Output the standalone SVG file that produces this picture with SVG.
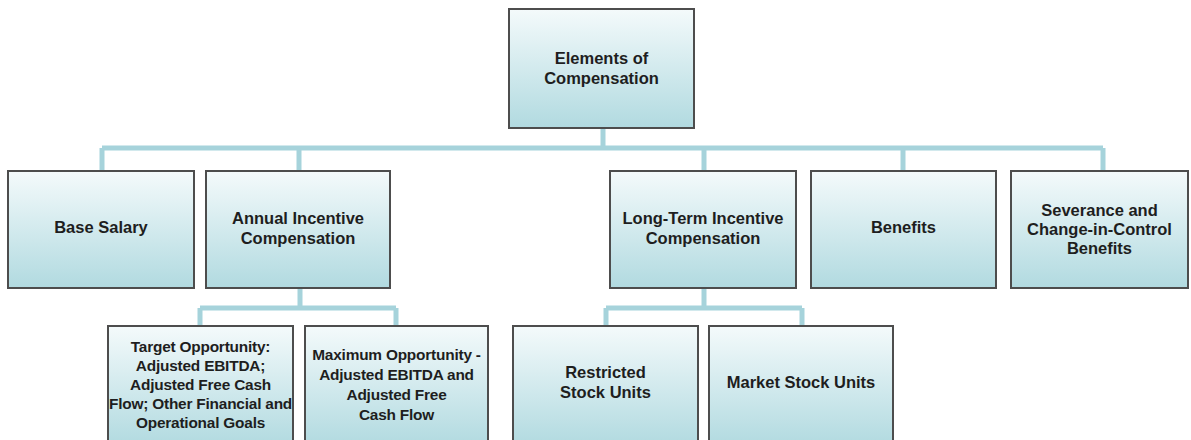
<svg xmlns="http://www.w3.org/2000/svg" width="1191" height="440" viewBox="0 0 1191 440">
<defs>
<linearGradient id="fill" x1="0" y1="0" x2="0" y2="1">
<stop offset="0" stop-color="#f4fafb"/>
<stop offset="1" stop-color="#b1dae0"/>
</linearGradient>
<linearGradient id="fillTall" gradientUnits="userSpaceOnUse" x1="0" y1="326" x2="0" y2="446">
<stop offset="0" stop-color="#f4fafb"/>
<stop offset="1" stop-color="#b1dae0"/>
</linearGradient>
<style>
.box{fill:url(#fill);stroke:#4d4d4d;stroke-width:2}
.tall{fill:url(#fillTall);stroke:#4d4d4d;stroke-width:2}
.t{font-family:"Liberation Sans",Arial,sans-serif;font-weight:bold;font-size:16.5px;fill:#1e1e1e;text-anchor:middle}
.s{font-size:15.4px;letter-spacing:-0.2px}
.c{fill:none;stroke:#a6d3db;stroke-width:5}
</style>
</defs>
<rect width="1191" height="440" fill="#ffffff"/>
<g id="connectors">
<path class="c" d="M603 128V148M102 148H1103M102 148V171M299 148V171M704 148V171M903 148V171M1103 148V171"/>
<path class="c" d="M300 288V308M200 308H396M200 308V326M396 308V326"/>
<path class="c" d="M704 288V308M606 308H802M606 308V326M802 308V326"/>
</g>
<g id="elements">
<rect class="box" x="509" y="9" width="185" height="119"/>
<text class="t" x="601.5" y="64">Elements of</text>
<text class="t" x="601.5" y="84">Compensation</text>
</g>
<g id="base-salary">
<rect class="box" x="8" y="171" width="186" height="117"/>
<text class="t" x="101" y="233">Base Salary</text>
</g>
<g id="annual">
<rect class="box" x="206" y="171" width="184" height="117"/>
<text class="t" x="298" y="224">Annual Incentive</text>
<text class="t" x="298" y="244">Compensation</text>
</g>
<g id="lti">
<rect class="box" x="610" y="171" width="186" height="117"/>
<text class="t" x="703" y="224">Long-Term Incentive</text>
<text class="t" x="703" y="244">Compensation</text>
</g>
<g id="benefits">
<rect class="box" x="811" y="171" width="185" height="117"/>
<text class="t" x="903.5" y="233">Benefits</text>
</g>
<g id="severance">
<rect class="box" x="1011" y="171" width="177" height="117"/>
<text class="t" x="1099.5" y="216">Severance and</text>
<text class="t" x="1099.5" y="235">Change-in-Control</text>
<text class="t" x="1099.5" y="254">Benefits</text>
</g>
<g id="target">
<rect class="tall" x="108" y="326" width="185" height="130"/>
<text class="t s" x="200.5" y="352">Target Opportunity:</text>
<text class="t s" x="200.5" y="371">Adjusted EBITDA;</text>
<text class="t s" x="200.5" y="390">Adjusted Free Cash</text>
<text class="t s" x="200.5" y="409">Flow; Other Financial and</text>
<text class="t s" x="200.5" y="428">Operational Goals</text>
</g>
<g id="maximum">
<rect class="tall" x="305" y="326" width="183" height="130"/>
<text class="t s" x="396.5" y="360">Maximum Opportunity -</text>
<text class="t s" x="396.5" y="380">Adjusted EBITDA and</text>
<text class="t s" x="396.5" y="400">Adjusted Free</text>
<text class="t s" x="396.5" y="420">Cash Flow</text>
</g>
<g id="rsu">
<rect class="tall" x="513" y="326" width="185" height="130"/>
<text class="t" x="605.5" y="378">Restricted</text>
<text class="t" x="605.5" y="398">Stock Units</text>
</g>
<g id="msu">
<rect class="tall" x="709" y="326" width="184" height="130"/>
<text class="t" x="801" y="388">Market Stock Units</text>
</g>
</svg>
